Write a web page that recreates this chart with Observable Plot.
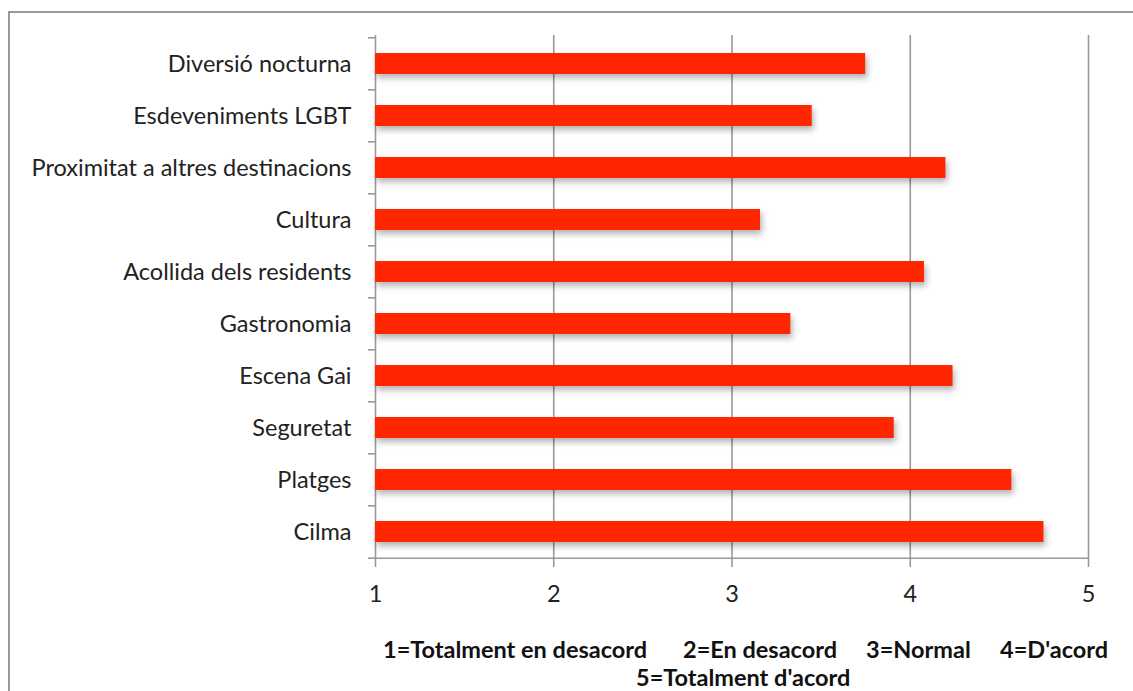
<!DOCTYPE html>
<html><head><meta charset="utf-8">
<script src="https://cdn.jsdelivr.net/npm/d3@7"></script>
<script src="https://cdn.jsdelivr.net/npm/@observablehq/plot@0.6"></script>
<style>
body{margin:0;background:#fff;font-family:Lato,sans-serif;overflow:hidden;width:1133px;height:691px;position:relative}
#frame{position:absolute;left:8px;top:11px;width:1200px;height:800px;border-top:2px solid #9a9a9a;border-left:2px solid #9a9a9a}
#chart{position:absolute;left:0;top:0}
#chart svg text{font-size:23.5px;fill:#222}
.leg{position:absolute;white-space:pre;font-weight:bold;font-size:23.5px;color:#111;line-height:28px;font-family:Lato,sans-serif}
</style></head><body>
<div id="frame"></div>
<div id="chart"></div>
<div class="leg" style="left:383px;top:635px">1=Totalment en desacord</div>
<div class="leg" style="left:683px;top:635px">2=En desacord</div>
<div class="leg" style="left:866px;top:635px">3=Normal</div>
<div class="leg" style="left:1000px;top:635px">4=D'acord</div>
<div class="leg" style="left:636px;top:663px">5=Totalment d'acord</div>
<script>
const categories = ["Diversió nocturna","Esdeveniments LGBT","Proximitat a altres destinacions","Cultura","Acollida dels residents","Gastronomia","Escena Gai","Seguretat","Platges","Cilma"];
const values = [3.75,3.45,4.20,3.16,4.08,3.33,4.24,3.91,4.57,4.75];
const xTicks = [1,2,3,4,5];
const data = categories.map((c,i)=>({cat:c,val:values[i]}));
const step = (559-35)/categories.length;
const plot = Plot.plot({
  width:1133, height:610,
  marginTop:35, marginLeft:375, marginRight:45, marginBottom:51,
  style:{fontFamily:"Lato,sans-serif",fontSize:"23.5px",color:"#222",background:"transparent",overflow:"visible"},
  x:{domain:[1,5]},
  y:{domain:categories, paddingInner:0.6, paddingOuter:0.3},
  marks:[
    Plot.ruleX(xTicks,{stroke:"#999",strokeWidth:1.6,strokeOpacity:1}),
    Plot.barX(data,{y:"cat",x1:1,x2:"val",fill:"#ff2600"}),
    Plot.axisX({ticks:xTicks,tickFormat:d=>String(d),tickSize:8,tickPadding:18,stroke:"#999",strokeWidth:1.6,strokeOpacity:1,label:null}),
    Plot.axisY({tickSize:0,tickPadding:24,label:null}),
    Plot.axisY({ticks:categories,tickSize:7,text:null,dy:-step/2,stroke:"#999",strokeWidth:1.6,strokeOpacity:1,label:null}),
    Plot.axisY({ticks:[categories[categories.length-1]],tickSize:7,text:null,dy:step/2,stroke:"#999",strokeWidth:1.6,strokeOpacity:1,label:null}),
    Plot.ruleY([0],{y:()=>categories[categories.length-1],dy:step/2,x1:1,x2:5,stroke:"#999",strokeWidth:1.6})
  ]
});
document.getElementById("chart").appendChild(plot);
d3.select(plot).selectAll("g[aria-label=bar] rect").style("filter","drop-shadow(2px 4px 3px rgba(0,0,0,0.3))");
</script>
</body></html>
